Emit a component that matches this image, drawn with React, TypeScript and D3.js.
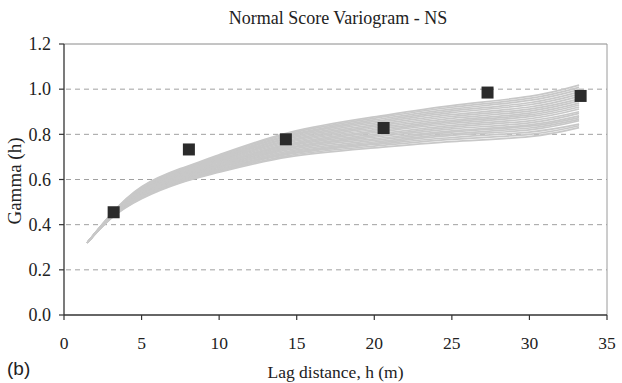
import React from "react";
import * as d3 from "d3";

const title = "Normal Score Variogram - NS";
const xLabel = "Lag distance, h (m)";
const yLabel = "Gamma (h)";
const panelLabel = "(b)";

const xTicks = [0, 5, 10, 15, 20, 25, 30, 35];
const yTicks = [0.0, 0.2, 0.4, 0.6, 0.8, 1.0, 1.2];
const gridValues = [0.2, 0.4, 0.6, 0.8, 1.0];

// experimental variogram points
const lagX = [3.2, 8.05, 14.3, 20.6, 27.3, 33.3];
const gammaY = [0.455, 0.733, 0.778, 0.828, 0.985, 0.97];

// model curves (realizations) sampled at these lags
const curveX = [1.5, 3, 5, 7.5, 10, 14.5, 20, 25, 30, 33.2];
const curves: number[][] = [
  [0.32, 0.426, 0.515, 0.585, 0.632, 0.7, 0.74, 0.768, 0.79, 0.83],
  [0.32, 0.427, 0.518, 0.588, 0.636, 0.706, 0.748, 0.778, 0.8, 0.838],
  [0.32, 0.428, 0.52, 0.591, 0.64, 0.712, 0.755, 0.786, 0.81, 0.845],
  [0.32, 0.429, 0.522, 0.594, 0.643, 0.716, 0.76, 0.795, 0.82, 0.86],
  [0.32, 0.43, 0.524, 0.596, 0.646, 0.72, 0.766, 0.802, 0.828, 0.866],
  [0.32, 0.43, 0.526, 0.598, 0.65, 0.726, 0.773, 0.81, 0.836, 0.874],
  [0.32, 0.431, 0.528, 0.601, 0.654, 0.732, 0.78, 0.815, 0.842, 0.882],
  [0.32, 0.432, 0.531, 0.605, 0.658, 0.738, 0.787, 0.824, 0.851, 0.893],
  [0.32, 0.433, 0.533, 0.607, 0.661, 0.742, 0.793, 0.832, 0.86, 0.9],
  [0.32, 0.434, 0.536, 0.611, 0.665, 0.748, 0.8, 0.84, 0.869, 0.912],
  [0.32, 0.435, 0.539, 0.614, 0.669, 0.753, 0.808, 0.848, 0.878, 0.921],
  [0.32, 0.435, 0.541, 0.617, 0.672, 0.758, 0.814, 0.855, 0.886, 0.93],
  [0.32, 0.436, 0.544, 0.621, 0.677, 0.764, 0.821, 0.862, 0.894, 0.938],
  [0.32, 0.437, 0.547, 0.624, 0.681, 0.77, 0.828, 0.871, 0.903, 0.948],
  [0.32, 0.438, 0.55, 0.628, 0.685, 0.775, 0.835, 0.879, 0.912, 0.957],
  [0.32, 0.439, 0.553, 0.631, 0.689, 0.781, 0.842, 0.887, 0.921, 0.968],
  [0.32, 0.44, 0.556, 0.635, 0.693, 0.786, 0.85, 0.896, 0.931, 0.978],
  [0.32, 0.441, 0.559, 0.638, 0.697, 0.792, 0.857, 0.904, 0.94, 0.988],
  [0.32, 0.442, 0.562, 0.642, 0.701, 0.797, 0.864, 0.912, 0.95, 0.998],
  [0.32, 0.443, 0.565, 0.645, 0.705, 0.803, 0.871, 0.92, 0.959, 1.008],
  [0.32, 0.444, 0.568, 0.648, 0.709, 0.808, 0.877, 0.927, 0.968, 1.018],
];

const W = 622;
const H = 383;
const M = { left: 64, right: 15, top: 44, bottom: 68 };
const SERIF = "Liberation Serif";

export default function App() {
  const x = d3.scaleLinear().domain([0, 35]).range([M.left, W - M.right]);
  const y = d3.scaleLinear().domain([0, 1.2]).range([H - M.bottom, M.top]);
  const line = d3
    .line<number>()
    .x((_, i) => x(curveX[i]))
    .y((d) => y(d))
    .curve(d3.curveNatural);

  const x0 = x(0);
  const x1 = x(35);
  const y0 = y(0);
  const y1 = y(1.2);

  return (
    <svg
      width={W}
      height={H}
      style={{ position: "absolute", left: 0, top: 0, background: "#fff" }}
    >
      <rect x={0} y={0} width={W} height={H} fill="#fff" />
      <text
        x={338}
        y={24}
        textAnchor="middle"
        fontFamily={SERIF}
        fontSize={18}
        fill="#222"
      >
        {title}
      </text>

      {/* gridlines */}
      {gridValues.map((v) => (
        <line
          key={v}
          x1={x0 + 2}
          x2={x1}
          y1={y(v)}
          y2={y(v)}
          stroke="#a0a0a0"
          strokeWidth={1}
          strokeDasharray="5,4"
        />
      ))}

      {/* plot frame top/right */}
      <line x1={x0} x2={x1} y1={y1} y2={y1} stroke="#8a8a8a" strokeWidth={1} />
      <line x1={x1} x2={x1} y1={y1} y2={y0} stroke="#9a9a9a" strokeWidth={1} />

      {/* model curves */}
      {curves.map((c, i) => (
        <path
          key={i}
          d={line(c) || ""}
          fill="none"
          stroke="#c8c8c8"
          strokeWidth={1.7}
        />
      ))}

      {/* axes */}
      <line x1={x0} x2={x0} y1={y1} y2={y0} stroke="#333" strokeWidth={1.3} />
      <line x1={x0} x2={x1} y1={y0} y2={y0} stroke="#333" strokeWidth={1.3} />
      {yTicks.map((t) => (
        <g key={t}>
          <line x1={x0 - 5} x2={x0} y1={y(t)} y2={y(t)} stroke="#333" strokeWidth={1.2} />
          <text
            x={x0 - 13}
            y={y(t)}
            dy="0.35em"
            textAnchor="end"
            fontFamily={SERIF}
            fontSize={18}
            fill="#222"
          >
            {t.toFixed(1)}
          </text>
        </g>
      ))}
      {xTicks.map((t) => (
        <g key={t}>
          <line x1={x(t)} x2={x(t)} y1={y0} y2={y0 + 5} stroke="#333" strokeWidth={1.2} />
          <text
            x={x(t)}
            y={y0 + 34}
            textAnchor="middle"
            fontFamily={SERIF}
            fontSize={17.5}
            fill="#222"
          >
            {t}
          </text>
        </g>
      ))}

      {/* experimental points */}
      {lagX.map((lx, i) => (
        <rect
          key={i}
          x={x(lx) - 6}
          y={y(gammaY[i]) - 6}
          width={12}
          height={12}
          fill="#2b2b2b"
        />
      ))}

      <text
        x={(x0 + x1) / 2}
        y={378}
        textAnchor="middle"
        fontFamily={SERIF}
        fontSize={17.5}
        fill="#222"
      >
        {xLabel}
      </text>
      <text
        transform={`translate(21, 181) rotate(-90)`}
        textAnchor="middle"
        fontFamily={SERIF}
        fontSize={19}
        fill="#222"
      >
        {yLabel}
      </text>
      <text
        x={7}
        y={375}
        fontFamily="Liberation Sans"
        fontSize={19}
        fill="#222"
      >
        {panelLabel}
      </text>
    </svg>
  );
}
